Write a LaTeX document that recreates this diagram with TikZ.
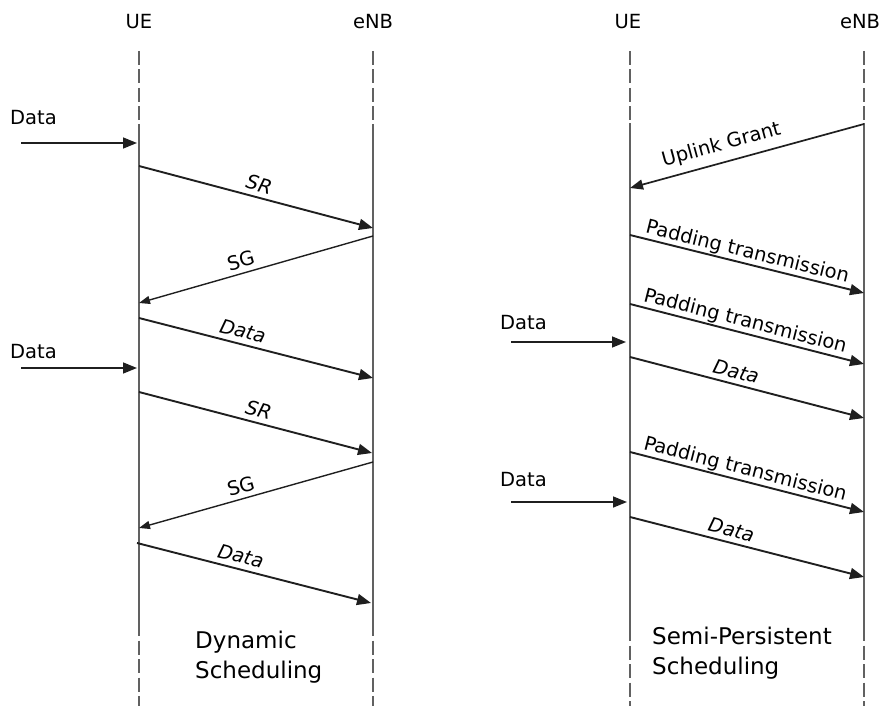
\documentclass[tikz,border=0pt]{standalone}
\usepackage{fontspec}
\setmainfont{DejaVu Sans}
\usetikzlibrary{arrows.meta}
\begin{document}
\begin{tikzpicture}[x=1pt,y=-1pt,
  life/.style={draw=black!62, line width=2pt},
  lifedash/.style={life, dash pattern=on 14pt off 4.5pt},
  msg/.style={draw=black!88, line width=1.9pt, -{Triangle[length=14pt,width=11pt]}},
  backmsg/.style={draw=black!88, line width=1.4pt, {Triangle[length=11pt,width=8pt]}-},
  lbl/.style={font=\fontsize{19.5}{22}\selectfont, inner sep=1pt, text height=14pt, text depth=4pt},
  head/.style={font=\fontsize{19.5}{22}\selectfont, inner sep=0pt},
  title/.style={font=\fontsize{23}{30}\selectfont, align=left, anchor=west, inner sep=0pt},
  inlbl/.style={font=\fontsize{19.5}{22}\selectfont, anchor=west, inner sep=0pt}
]
\useasboundingbox (0,0) rectangle (883,706);

% ---------- headings ----------
\node[head] (ue1) at (139,22) {UE};
\node[head] (enb1) at (373,22) {eNB};
\node[head] (ue2) at (628,22) {UE};
\node[head] (enb2) at (860,22) {eNB};

% ---------- lifelines ----------
\coordinate (u1t) at (139,51);  \coordinate (u1a) at (139,124);
\coordinate (u1b) at (139,622); \coordinate (u1e) at (139,706);
\coordinate (e1t) at (373,51);  \coordinate (e1a) at (373,124);
\coordinate (e1b) at (373,622); \coordinate (e1e) at (373,706);
\coordinate (u2t) at (630,51);  \coordinate (u2a) at (630,123);
\coordinate (u2b) at (630,627); \coordinate (u2e) at (630,706);
\coordinate (e2t) at (864,51);  \coordinate (e2a) at (864,123);
\coordinate (e2b) at (864,627); \coordinate (e2e) at (864,706);

\draw[lifedash] (u1t) -- (u1a);
\draw[life] (u1a) -- (u1b);
\draw[lifedash] (u1b) -- (u1e);
\draw[lifedash] (e1t) -- (e1a);
\draw[life] (e1a) -- (e1b);
\draw[lifedash] (e1b) -- (e1e);
\draw[lifedash] (u2t) -- (u2a);
\draw[life] (u2a) -- (u2b);
\draw[lifedash] (u2b) -- (u2e);
\draw[lifedash] (e2t) -- (e2a);
\draw[life] (e2a) -- (e2b);
\draw[lifedash] (e2b) -- (e2e);

% ---------- left: dynamic scheduling ----------
\node[inlbl] (din1) at (10,118) {Data};
\coordinate (di1s) at (21,143); \coordinate (di1e) at (137,143);
\draw[msg, line width=1.5pt] (di1s) -- (di1e);

\coordinate (sr1s) at (139,166); \coordinate (sr1e) at (373,228);
\draw[msg] (sr1s) -- node[lbl, sloped, above, pos=0.5] (sr1l) {\itshape SR} (sr1e);

\coordinate (sg1s) at (139,303); \coordinate (sg1e) at (373,236);
\draw[backmsg] (sg1s) -- node[lbl, sloped, above, pos=0.45] (sg1l) {SG} (sg1e);

\coordinate (d1s) at (139,318); \coordinate (d1e) at (373,378);
\draw[msg] (d1s) -- node[lbl, sloped, above, pos=0.43] (d1l) {\itshape Data} (d1e);

\node[inlbl] (din2) at (10,352) {Data};
\coordinate (di2s) at (21,368); \coordinate (di2e) at (137,368);
\draw[msg, line width=1.5pt] (di2s) -- (di2e);

\coordinate (sr2s) at (139,392); \coordinate (sr2e) at (372,453);
\draw[msg] (sr2s) -- node[lbl, sloped, above, pos=0.5] (sr2l) {\itshape SR} (sr2e);

\coordinate (sg2s) at (139,528); \coordinate (sg2e) at (373,462);
\draw[backmsg] (sg2s) -- node[lbl, sloped, above, pos=0.45] (sg2l) {SG} (sg2e);

\coordinate (d2s) at (137,543); \coordinate (d2e) at (371,603);
\draw[msg] (d2s) -- node[lbl, sloped, above, pos=0.43] (d2l) {\itshape Data} (d2e);

\node[title] (dyn) at (195,657) {Dynamic\\Scheduling};

% ---------- right: semi-persistent scheduling ----------
\coordinate (ugs) at (630,188); \coordinate (uge) at (864,124);
\draw[backmsg, line width=1.7pt, {Triangle[length=13pt,width=10pt]}-] (ugs) -- node[lbl, sloped, above=6pt, pos=0.41] (ugl) {Uplink Grant} (uge);

\coordinate (p1s) at (630,235); \coordinate (p1e) at (864,293);
\draw[msg] (p1s) -- node[lbl, sloped, above, pos=0.49] (p1l) {Padding transmission} (p1e);

\coordinate (p2s) at (630,304); \coordinate (p2e) at (864,364);
\draw[msg] (p2s) -- node[lbl, sloped, above, pos=0.48] (p2l) {Padding transmission} (p2e);

\node[inlbl] (rin1) at (500,323) {Data};
\coordinate (ri1s) at (511,342); \coordinate (ri1e) at (626,342);
\draw[msg, line width=1.5pt] (ri1s) -- (ri1e);

\coordinate (rd1s) at (630,357); \coordinate (rd1e) at (864,418);
\draw[msg] (rd1s) -- node[lbl, sloped, above, pos=0.44] (rd1l) {\itshape Data} (rd1e);

\coordinate (p3s) at (630,452); \coordinate (p3e) at (864,512);
\draw[msg] (p3s) -- node[lbl, sloped, above, pos=0.48] (p3l) {Padding transmission} (p3e);

\node[inlbl] (rin2) at (500,480) {Data};
\coordinate (ri2s) at (511,502); \coordinate (ri2e) at (627,502);
\draw[msg, line width=1.5pt] (ri2s) -- (ri2e);

\coordinate (rd2s) at (630,517); \coordinate (rd2e) at (864,577);
\draw[msg] (rd2s) -- node[lbl, sloped, above, pos=0.42] (rd2l) {\itshape Data} (rd2e);

\node[title] (sps) at (652,653) {Semi-Persistent\\Scheduling};
\end{tikzpicture}
\end{document}
